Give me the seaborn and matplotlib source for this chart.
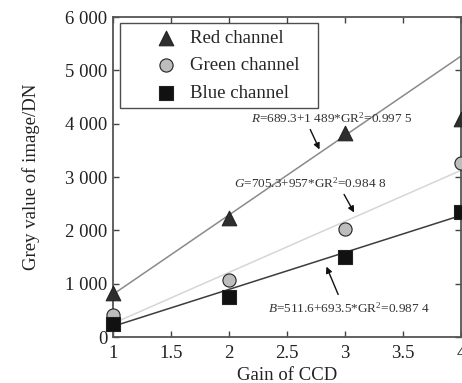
import numpy as np
import pandas as pd
import seaborn as sns
import matplotlib
matplotlib.use("Agg")
import matplotlib.pyplot as plt
from matplotlib.ticker import FuncFormatter

gain = [1, 2, 3, 4]
red_vals = [825, 2230, 3825, 4080]
green_vals = [410, 1070, 2025, 3260]
blue_vals = [245, 750, 1500, 2340]

# fitted lines: value at gain=1 and slope
fit_start = {"Red": 800, "Green": 255, "Blue": 200}
fit_slope = {"Red": 1489, "Green": 957, "Blue": 693.5}

labels = ["Red channel", "Green channel", "Blue channel"]
eq_texts = [r"$\it{R}$=689.3+1 489*GR$^2$=0.997 5",
            r"$\it{G}$=705.3+957*GR$^2$=0.984 8",
            r"$\it{B}$=511.6+693.5*GR$^2$=0.987 4"]


def thousands(v, _):
    v = int(round(v))
    if v >= 1000:
        return f"{v // 1000} {v % 1000:03d}"
    return f"{v}"


sns.set_style("ticks")
plt.rcParams["font.family"] = ["Liberation Serif", "DejaVu Serif"]
plt.rcParams["mathtext.fontset"] = "custom"
plt.rcParams["mathtext.rm"] = "Liberation Serif"
plt.rcParams["mathtext.it"] = "Liberation Serif:italic"

fig = plt.figure(figsize=(4.62, 3.83), dpi=100)
ax = fig.add_axes([0.2446, 0.12, 0.7534, 0.8356])

line_colors = {"Red": "#8a8a8a", "Green": "#d6d6d6", "Blue": "#3c3c3c"}
for ch in ["Red", "Green", "Blue"]:
    xs = [1, 4]
    ys = [fit_start[ch], fit_start[ch] + fit_slope[ch] * 3]
    sns.lineplot(x=xs, y=ys, ax=ax, color=line_colors[ch], linewidth=1.1,
                 legend=False, zorder=2)

pts = pd.DataFrame({"gain": gain * 3,
                    "value": red_vals + green_vals + blue_vals,
                    "channel": ["Red"] * 4 + ["Green"] * 4 + ["Blue"] * 4})
styles = {"Red": ("^", "#2e2e2e", 110),
          "Green": ("o", "#bdbdbd", 90),
          "Blue": ("s", "#111111", 90)}
for ch, lab in zip(["Red", "Green", "Blue"], labels):
    m, c, s = styles[ch]
    sub = pts[pts["channel"] == ch]
    sns.scatterplot(data=sub, x="gain", y="value", ax=ax, marker=m, color=c,
                    s=s, edgecolor="#222222", linewidth=0.8, label=lab,
                    zorder=3, clip_on=False)

ax.set_xlim(1, 4)
ax.set_ylim(0, 6000)
ax.set_xticks([1, 1.5, 2, 2.5, 3, 3.5, 4])
ax.set_xticklabels(["1", "1.5", "2", "2.5", "3", "3.5", "4"])
ax.set_yticks(range(0, 6001, 1000))
ax.yaxis.set_major_formatter(FuncFormatter(thousands))
ax.tick_params(direction="in", top=True, right=True, labelsize=13.5,
               length=4, width=1, colors="#444444", labelcolor="#222222")
ax.tick_params(axis="x", pad=6)
ax.tick_params(axis="y", pad=4)
for sp in ax.spines.values():
    sp.set_visible(True)
    sp.set_linewidth(1.3)
    sp.set_color("#555555")

ax.set_xlabel("Gain of CCD", fontsize=13.5, color="#222222", labelpad=3)
ax.set_ylabel("Grey value of image/DN", fontsize=13.5, color="#222222",
              labelpad=18)

leg = ax.legend(loc="upper left", bbox_to_anchor=(0.02, 0.719, 0.569, 0.262),
                mode="expand", fontsize=13.5, frameon=True, fancybox=False,
                edgecolor="#222222", borderpad=0.35, handlelength=4.2,
                handletextpad=-0.8, labelspacing=0.55, borderaxespad=0)
leg.get_frame().set_linewidth(1.0)

arrowprops = dict(arrowstyle="-|>", color="#111111", lw=1.0,
                  mutation_scale=9)
ax.text(2.19, 4106, eq_texts[0], fontsize=9.5, va="center", color="#333333")
ax.annotate("", xy=(2.79, 3469), xytext=(2.69, 3938), arrowprops=arrowprops)
ax.text(2.04, 2888, eq_texts[1], fontsize=9.5, va="center", color="#333333")
ax.annotate("", xy=(3.09, 2288), xytext=(2.98, 2719), arrowprops=arrowprops)
ax.text(2.34, 544, eq_texts[2], fontsize=9.5, va="center", color="#333333")
ax.annotate("", xy=(2.83, 1369), xytext=(2.95, 750), arrowprops=arrowprops)

fig.savefig("out.png", dpi=100)
